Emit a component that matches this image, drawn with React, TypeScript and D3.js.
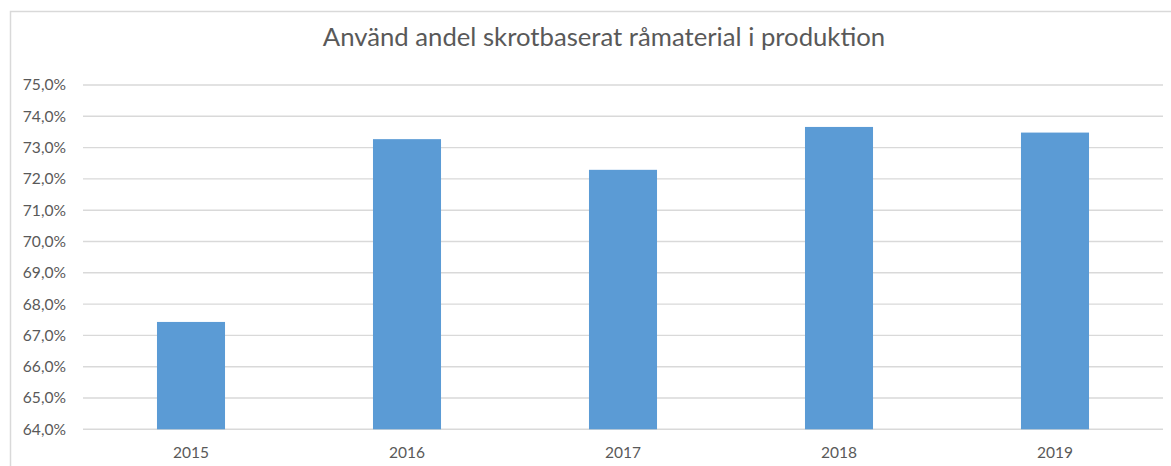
import React from "react";
import * as d3 from "d3";

const categories = ["2015", "2016", "2017", "2018", "2019"];
const values = [67.43, 73.27, 72.29, 73.66, 73.48];
const yTicks = [64, 65, 66, 67, 68, 69, 70, 71, 72, 73, 74, 75];
const title = "Använd andel skrotbaserat råmaterial i produktion";

const W = 1171;
const H = 466;

export default function App() {
  const y = d3.scaleLinear().domain([64, 75]).range([429.3, 85]);
  const x = d3.scaleBand<string>().domain(categories).range([83, 1163]).paddingInner(0).paddingOuter(0);
  const barW = x.bandwidth() * 0.315;
  const fmt = (v: number) => v.toFixed(1).replace(".", ",") + "%";
  const font = "Lato, 'Open Sans', sans-serif";
  return (
    <svg width={W} height={H} style={{ position: "absolute", left: 0, top: 0, background: "#fff" }}>
      <rect x={10.5} y={11.5} width={1300} height={600} fill="#fff" stroke="#d9d9d9" strokeWidth={1.5} />
      <text x={604} y={46} textAnchor="middle" fontFamily={font} fontSize={25.7} fill="#595959">
        {title}
      </text>
      {yTicks.map((t) => (
        <g key={t}>
          <line x1={83} x2={1163} y1={y(t)} y2={y(t)} stroke="#d9d9d9" strokeWidth={1.4} />
          <text x={66} y={y(t)} dy="0.35em" textAnchor="end" fontFamily={font} fontSize={15.6} fill="#595959">
            {fmt(t)}
          </text>
        </g>
      ))}
      {categories.map((c, i) => {
        const cx = (x(c) as number) + x.bandwidth() / 2;
        return (
          <g key={c}>
            <rect x={cx - barW / 2} y={y(values[i])} width={barW} height={y(64) - y(values[i])} fill="#5b9bd5" />
            <text x={cx} y={457.7} textAnchor="middle" fontFamily={font} fontSize={15.5} fill="#595959">
              {c}
            </text>
          </g>
        );
      })}
    </svg>
  );
}
